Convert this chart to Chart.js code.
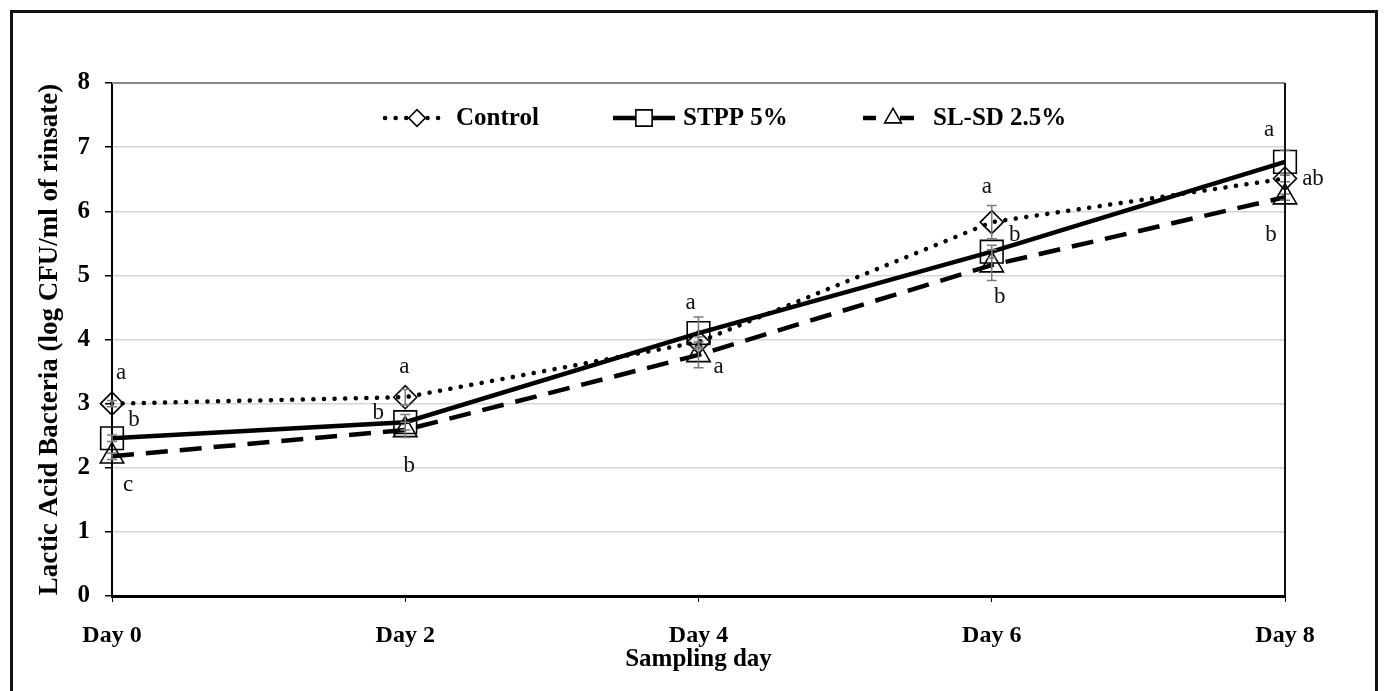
<!DOCTYPE html>
<html>
<head>
<meta charset="utf-8">
<script src="https://cdn.jsdelivr.net/npm/chart.js@4.4.1/dist/chart.umd.min.js"></script>
<style>
  html, body { margin: 0; padding: 0; background: #fff; }
  #wrap { position: relative; width: 1386px; height: 691px; overflow: hidden; }
  #frame { position: absolute; left: 10px; top: 10px; width: 1368px; height: 700px;
           border: 3px solid #111; pointer-events: none; box-sizing: border-box; }
  canvas { display: block; }
</style>
</head>
<body>
<div id="wrap">
  <canvas id="c" width="1386" height="691"></canvas>
  <div id="frame"></div>
</div>
<script>
// ---- data ----
const categories = ['Day 0', 'Day 2', 'Day 4', 'Day 6', 'Day 8'];
const seriesNames = ['Control', 'STPP 5%', 'SL-SD 2.5%'];
const controlValues = [3.00, 3.10, 3.96, 5.83, 6.51];
const stppValues    = [2.46, 2.71, 4.10, 5.37, 6.77];
const slsdValues    = [2.18, 2.59, 3.76, 5.16, 6.22];
const controlErr = [0.05, 0.12, 0.08, 0.26, 0.05];
const stppErr    = [0.05, 0.12, 0.25, 0.10, 0.18];
const slsdErr    = [0.05, 0.12, 0.20, 0.24, 0.05];
const controlLetters = ['a', 'a', '',  'a', 'ab'];
const stppLetters    = ['b', 'b', 'a', 'b', 'a'];
const slsdLetters    = ['c', 'b', 'a', 'b', 'b'];
const yTicks = [0, 1, 2, 3, 4, 5, 6, 7, 8];
const yTitle = 'Lactic Acid Bacteria (log CFU/ml of rinsate)';
const xTitle = 'Sampling day';

// ---- label offsets (px, relative to point) ----
const letterOffsets = [
  [[9, -31], [-1, -30], [0, 0], [-5, -35], [28, 0]],
  [[22, -18], [-27, -9], [-8, -30], [23, -17], [-16, -32]],
  [[16, 29], [4, 36], [20, 12], [8, 32], [-14, 38]]
];

const serif = "'Liberation Serif', 'Times New Roman', serif";

const errorBars = {
  id: 'errorBars',
  afterDatasetsDraw(chart) {
    const ctx = chart.ctx, y = chart.scales.y, x = chart.scales.x;
    const errs = [controlErr, stppErr, slsdErr];
    ctx.save();
    ctx.strokeStyle = '#7a7a7a';
    ctx.lineWidth = 1.5;
    chart.data.datasets.forEach((ds, di) => {
      ds.data.forEach((v, i) => {
        const px = x.getPixelForValue(i);
        const e = errs[di][i];
        const y1 = y.getPixelForValue(v + e), y2 = y.getPixelForValue(v - e);
        ctx.beginPath();
        ctx.moveTo(px, y1); ctx.lineTo(px, y2);
        ctx.moveTo(px - 5, y1); ctx.lineTo(px + 5, y1);
        ctx.moveTo(px - 5, y2); ctx.lineTo(px + 5, y2);
        ctx.stroke();
      });
    });
    ctx.restore();
  }
};

const letters = {
  id: 'letters',
  afterDatasetsDraw(chart) {
    const ctx = chart.ctx, y = chart.scales.y, x = chart.scales.x;
    const L = [controlLetters, stppLetters, slsdLetters];
    ctx.save();
    ctx.fillStyle = '#111';
    ctx.font = "23px " + serif;
    ctx.textAlign = 'center';
    ctx.textBaseline = 'middle';
    chart.data.datasets.forEach((ds, di) => {
      ds.data.forEach((v, i) => {
        const t = L[di][i];
        if (!t) return;
        const o = letterOffsets[di][i];
        ctx.fillText(t, x.getPixelForValue(i) + o[0], y.getPixelForValue(v) + o[1]);
      });
    });
    ctx.restore();
  }
};

const frameLines = {
  id: 'frameLines',
  afterDraw(chart) {
    const ctx = chart.ctx, a = chart.chartArea;
    ctx.save();
    ctx.strokeStyle = '#8a8a8a';
    ctx.lineWidth = 2;
    ctx.beginPath(); ctx.moveTo(a.left, a.top); ctx.lineTo(a.right, a.top); ctx.stroke();
    ctx.strokeStyle = '#111';
    ctx.lineWidth = 2;
    ctx.beginPath(); ctx.moveTo(a.right, a.top); ctx.lineTo(a.right, a.bottom); ctx.stroke();
    ctx.restore();
  }
};

const customLegend = {
  id: 'customLegend',
  afterDraw(chart) {
    const ctx = chart.ctx;
    const items = [
      { x0: 385, x1: 445, mx: 417, tx: 456 },
      { x0: 613, x1: 675, mx: 644, tx: 683 },
      { x0: 863, x1: 914, mx: 893, tx: 933 }
    ];
    const ly = 118;
    ctx.save();
    chart.data.datasets.forEach((ds, di) => {
      const it = items[di];
      ctx.strokeStyle = '#000';
      ctx.lineWidth = ds.borderWidth;
      ctx.lineCap = ds.borderCapStyle || 'butt';
      ctx.setLineDash(di === 2 ? [13, 40] : (ds.borderDash || []));
      ctx.beginPath(); ctx.moveTo(it.x0, ly); ctx.lineTo(it.x1, ly); ctx.stroke();
      if (di === 2) { ctx.setLineDash([]); ctx.beginPath(); ctx.moveTo(it.x1 - 14, ly); ctx.lineTo(it.x1, ly); ctx.stroke(); }
      ctx.setLineDash([]);
      ctx.fillStyle = '#fff';
      ctx.strokeStyle = '#000';
      ctx.lineWidth = ds.pointBorderWidth;
      Chart.helpers.drawPoint(ctx, {
        pointStyle: ds.pointStyle, rotation: 0,
        radius: ds.pointRadius * 0.72, borderWidth: ds.pointBorderWidth
      }, it.mx, ly);
      ctx.fillStyle = '#000';
      ctx.font = "bold 25px " + serif;
      ctx.textAlign = 'left';
      ctx.textBaseline = 'middle';
      ctx.fillText(ds.label, it.tx, ly + 1);
    });
    ctx.restore();
  }
};

new Chart(document.getElementById('c'), {
  type: 'line',
  data: {
    labels: categories,
    datasets: [
      { label: seriesNames[0], data: controlValues, borderColor: '#000', borderWidth: 4.5,
        borderDash: [0.1, 10.5], borderCapStyle: 'round', pointStyle: 'rectRot', pointRadius: 11.5,
        pointBackgroundColor: 'rgba(255,255,255,0)', pointBorderColor: '#000', pointBorderWidth: 1.6,
        tension: 0, fill: false },
      { label: seriesNames[1], data: stppValues, borderColor: '#000', borderWidth: 4.5,
        pointStyle: 'rect', pointRadius: 16,
        pointBackgroundColor: 'rgba(255,255,255,0)', pointBorderColor: '#000', pointBorderWidth: 1.6,
        tension: 0, fill: false },
      { label: seriesNames[2], data: slsdValues, borderColor: '#000', borderWidth: 4.5,
        borderDash: [22, 12], pointStyle: 'triangle', pointRadius: 13.5,
        pointBackgroundColor: 'rgba(255,255,255,0)', pointBorderColor: '#000', pointBorderWidth: 1.6,
        tension: 0, fill: false }
    ]
  },
  options: {
    responsive: false,
    animation: false,
    layout: { padding: { left: 34, right: 101, top: 83, bottom: 16 } },
    plugins: { legend: { display: false }, tooltip: { enabled: false } },
    scales: {
      x: {
        type: 'category',
        offset: false,
        grid: { display: true, drawOnChartArea: false, drawTicks: true, tickLength: 6, tickColor: '#000', lineWidth: 1 },
        border: { display: true, color: '#000', width: 3 },
        ticks: { color: '#000', padding: 19, font: { family: serif, size: 24, weight: 'bold' }, maxRotation: 0 },
        title: { display: true, text: xTitle, color: '#000', font: { family: serif, size: 25, weight: 'bold' }, padding: 0 },
        afterFit(s) { s.height = 79; }
      },
      y: {
        min: 0, max: 8,
        afterBuildTicks(s) { s.ticks = yTicks.map(v => ({ value: v })); },
        grid: { color: '#d4d4d4', lineWidth: 1.5, drawTicks: true, tickLength: 7, tickColor: '#000' },
        border: { display: true, color: '#000', width: 2 },
        ticks: { color: '#000', padding: 15, font: { family: serif, size: 25, weight: 'bold' } },
        title: { display: true, text: yTitle, color: '#000', font: { family: serif, size: 27, weight: 'bold' }, padding: 0 },
        afterFit(s) { s.width = 78; }
      }
    }
  },
  plugins: [errorBars, letters, frameLines, customLegend]
});
</script>
</body>
</html>
